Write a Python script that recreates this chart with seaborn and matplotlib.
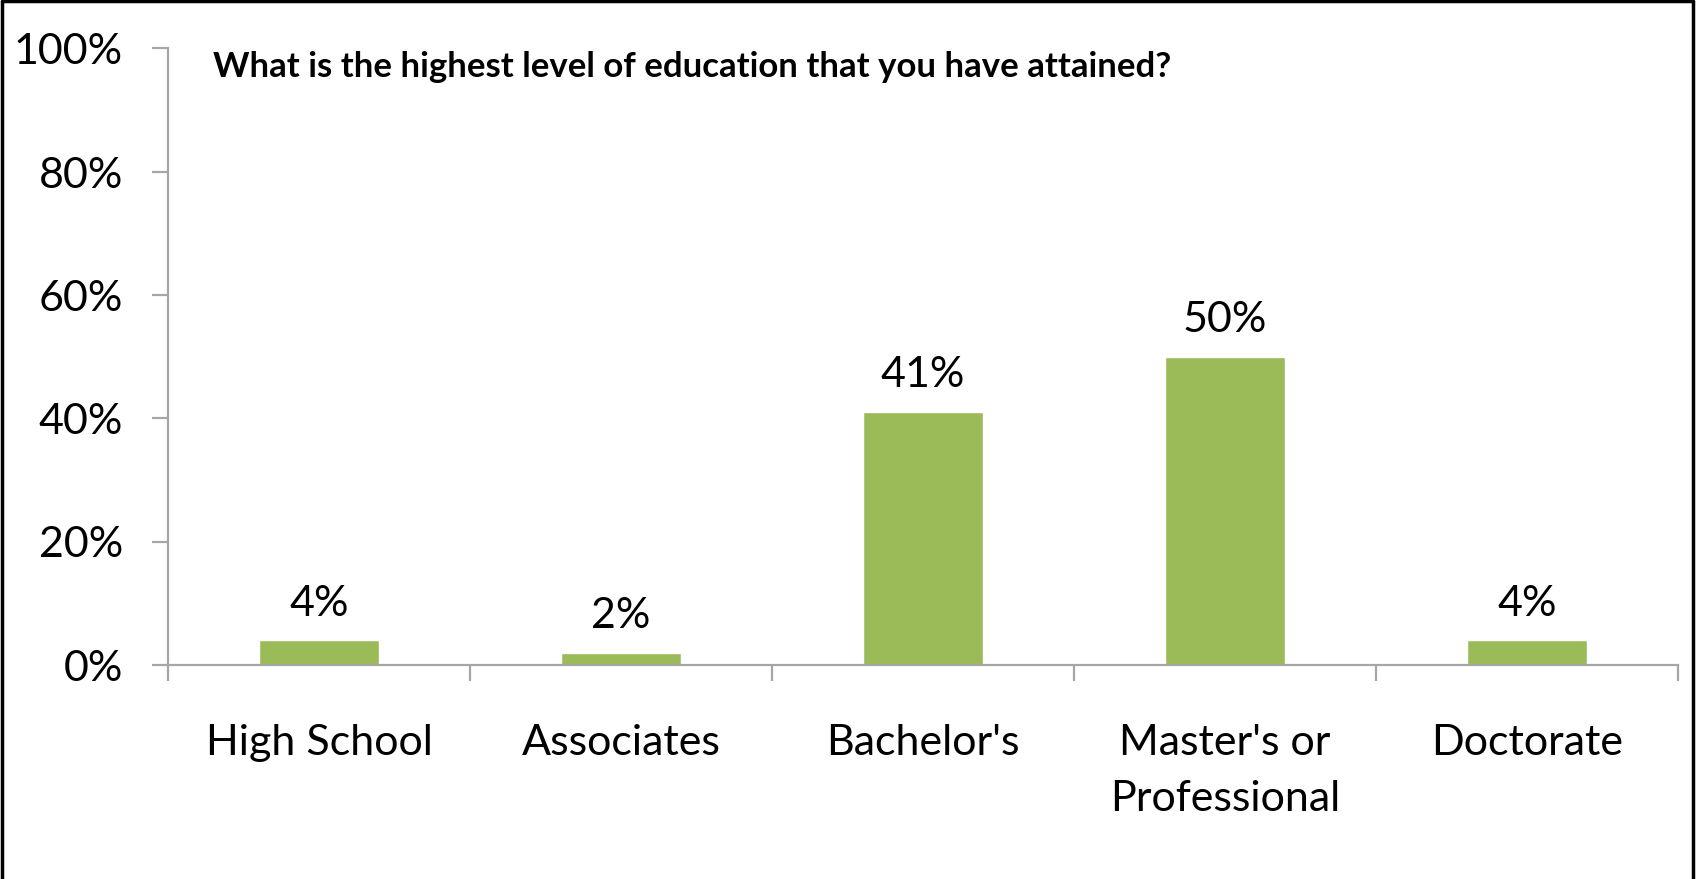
import matplotlib
matplotlib.use("Agg")
import matplotlib.pyplot as plt
from matplotlib.lines import Line2D
import seaborn as sns
import pandas as pd

# Survey responses: highest education level attained
categories = ["High School", "Associates", "Bachelor's", "Master's or\nProfessional", "Doctorate"]
shares = [4, 2, 41, 50, 4]
y_ticks = [0, 20, 40, 60, 80, 100]
y_tick_labels = ["0%", "20%", "40%", "60%", "80%", "100%"]
title = "What is the highest level of education that you have attained?"

df = pd.DataFrame({"level": categories, "share": shares})

sns.set_theme(style="white")
plt.rcParams["font.family"] = ["Lato", "DejaVu Sans"]

W, H = 1696, 879
fig = plt.figure(figsize=(W / 100, H / 100 + 0.004), dpi=100)
ax = fig.add_axes([168 / W, 1 - 665 / H, (1678 - 168) / W, (665 - 48.7) / H])

green = "#9BBB59"
axis_grey = "#A6A6A6"

sns.barplot(data=df, x="level", y="share", color=green, width=0.4,
            saturation=1, ax=ax, order=categories)

ax.set_xlim(-0.5, len(categories) - 0.5)
ax.set_ylim(0, 100)
ax.set_xlabel("")
ax.set_ylabel("")

# axis lines
for side in ["top", "right"]:
    ax.spines[side].set_visible(False)
for side in ["left", "bottom"]:
    ax.spines[side].set_color(axis_grey)
    ax.spines[side].set_linewidth(1.6)

ax.set_yticks(y_ticks)
ax.set_yticklabels(y_tick_labels, fontsize=31, color="black")
ax.tick_params(axis="y", which="major", direction="out", length=11.5,
               width=1.6, color=axis_grey, pad=21, left=True)

# category labels centred, boundary ticks between categories
ax.set_xticks(range(len(categories)))
ax.set_xticklabels(categories, fontsize=31, color="black", linespacing=1.6)
ax.tick_params(axis="x", which="major", length=0, pad=42)
ax.set_xticks([i - 0.5 for i in range(len(categories) + 1)], minor=True)
ax.tick_params(axis="x", which="minor", direction="out", length=11.5,
               width=1.6, color=axis_grey, bottom=True)
for lbl in ax.get_xticklabels():
    lbl.set_verticalalignment("top")

# value labels above bars
for container in ax.containers:
    ax.bar_label(container, labels=[f"{v}%" for v in shares], padding=13,
                 fontsize=31, color="black")

fig.text(213 / W, 1 - 67 / H, title, fontsize=25, fontweight="bold",
         ha="left", va="center", color="black")

# outer frame (left, top, right)
lw = 2.5
fig.add_artist(Line2D([1.5 / W, 1.5 / W], [0, 1 - 1.5 / H], color="black", lw=lw,
                      transform=fig.transFigure))
fig.add_artist(Line2D([1.5 / W, 1 - 3 / W], [1 - 1.5 / H, 1 - 1.5 / H], color="black",
                      lw=lw, transform=fig.transFigure))
fig.add_artist(Line2D([1 - 3 / W, 1 - 3 / W], [0, 1 - 1.5 / H], color="black", lw=lw,
                      transform=fig.transFigure))

fig.savefig("out.png", dpi=100, facecolor="white")
